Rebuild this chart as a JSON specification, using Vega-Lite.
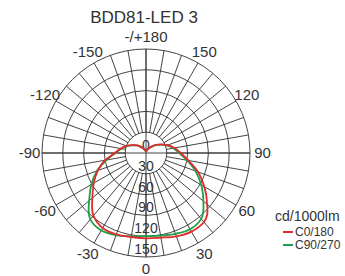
{
  "$schema": "https://vega.github.io/schema/vega-lite/v6.json",
  "width": 208,
  "height": 208,
  "autosize": "none",
  "padding": {"left": 42, "top": 49, "right": 95, "bottom": 19},
  "background": "white",
  "config": {"view": {"stroke": null}, "font": "Liberation Sans"},
  "title": {"text": "BDD81-LED 3", "fontSize": 17, "fontWeight": "normal", "color": "#333333", "font": "Liberation Sans", "frame": "group", "baseline": "alphabetic", "offset": -10, "dx": -2},
  "datasets": {
    "curves": [
      {"c": "C90/270", "a": -180, "v": 1.5}, {"c": "C90/270", "a": -170, "v": 2.5}, {"c": "C90/270", "a": -160, "v": 4}, {"c": "C90/270", "a": -150, "v": 7}, {"c": "C90/270", "a": -140, "v": 11}, {"c": "C90/270", "a": -130, "v": 17}, {"c": "C90/270", "a": -120, "v": 22}, {"c": "C90/270", "a": -110, "v": 29}, {"c": "C90/270", "a": -100, "v": 36}, {"c": "C90/270", "a": -90, "v": 44}, {"c": "C90/270", "a": -80, "v": 58}, {"c": "C90/270", "a": -70, "v": 75}, {"c": "C90/270", "a": -60, "v": 91}, {"c": "C90/270", "a": -50, "v": 107}, {"c": "C90/270", "a": -45, "v": 117}, {"c": "C90/270", "a": -40, "v": 125}, {"c": "C90/270", "a": -30, "v": 129}, {"c": "C90/270", "a": -20, "v": 126}, {"c": "C90/270", "a": -10, "v": 122}, {"c": "C90/270", "a": 0, "v": 120}, {"c": "C90/270", "a": 10, "v": 121}, {"c": "C90/270", "a": 20, "v": 124}, {"c": "C90/270", "a": 30, "v": 127}, {"c": "C90/270", "a": 40, "v": 124}, {"c": "C90/270", "a": 45, "v": 117}, {"c": "C90/270", "a": 50, "v": 108}, {"c": "C90/270", "a": 55, "v": 100}, {"c": "C90/270", "a": 60, "v": 92}, {"c": "C90/270", "a": 70, "v": 76}, {"c": "C90/270", "a": 80, "v": 60}, {"c": "C90/270", "a": 90, "v": 48}, {"c": "C90/270", "a": 100, "v": 40}, {"c": "C90/270", "a": 110, "v": 32}, {"c": "C90/270", "a": 120, "v": 24}, {"c": "C90/270", "a": 130, "v": 17}, {"c": "C90/270", "a": 140, "v": 11}, {"c": "C90/270", "a": 150, "v": 7}, {"c": "C90/270", "a": 160, "v": 4}, {"c": "C90/270", "a": 170, "v": 2.5}, {"c": "C90/270", "a": 180, "v": 1.5},
      {"c": "C0/180", "a": -180, "v": 1.5}, {"c": "C0/180", "a": -170, "v": 3}, {"c": "C0/180", "a": -160, "v": 5}, {"c": "C0/180", "a": -150, "v": 8}, {"c": "C0/180", "a": -140, "v": 12}, {"c": "C0/180", "a": -130, "v": 17}, {"c": "C0/180", "a": -120, "v": 23}, {"c": "C0/180", "a": -110, "v": 30}, {"c": "C0/180", "a": -100, "v": 37}, {"c": "C0/180", "a": -90, "v": 45}, {"c": "C0/180", "a": -80, "v": 60}, {"c": "C0/180", "a": -70, "v": 74}, {"c": "C0/180", "a": -60, "v": 87}, {"c": "C0/180", "a": -50, "v": 101}, {"c": "C0/180", "a": -45, "v": 110}, {"c": "C0/180", "a": -40, "v": 118}, {"c": "C0/180", "a": -30, "v": 125}, {"c": "C0/180", "a": -20, "v": 125}, {"c": "C0/180", "a": -10, "v": 123}, {"c": "C0/180", "a": 0, "v": 123}, {"c": "C0/180", "a": 10, "v": 124}, {"c": "C0/180", "a": 20, "v": 128}, {"c": "C0/180", "a": 30, "v": 131}, {"c": "C0/180", "a": 40, "v": 130}, {"c": "C0/180", "a": 45, "v": 125}, {"c": "C0/180", "a": 50, "v": 115}, {"c": "C0/180", "a": 55, "v": 106}, {"c": "C0/180", "a": 60, "v": 97}, {"c": "C0/180", "a": 70, "v": 80}, {"c": "C0/180", "a": 80, "v": 62}, {"c": "C0/180", "a": 90, "v": 50}, {"c": "C0/180", "a": 100, "v": 42}, {"c": "C0/180", "a": 110, "v": 33}, {"c": "C0/180", "a": 120, "v": 25}, {"c": "C0/180", "a": 130, "v": 18}, {"c": "C0/180", "a": 140, "v": 12}, {"c": "C0/180", "a": 150, "v": 8}, {"c": "C0/180", "a": 160, "v": 5}, {"c": "C0/180", "a": 170, "v": 3}, {"c": "C0/180", "a": 180, "v": 1.5}
    ]
  },
  "layer": [
    {
      "data": {"values": [{"r": 30}, {"r": 60}, {"r": 90}, {"r": 120}, {"r": 150}]},
      "mark": {"type": "point", "shape": "circle", "filled": false, "stroke": "#2f2f2f", "strokeWidth": 0.9, "opacity": 1},
      "encoding": {
        "x": {"datum": 0, "type": "quantitative", "scale": {"domain": [-150, 150], "nice": false, "zero": false}, "axis": null},
        "y": {"datum": 0, "type": "quantitative", "scale": {"domain": [-150, 150], "nice": false, "zero": false}, "axis": null},
        "size": {"field": "r", "type": "quantitative", "scale": {"type": "pow", "exponent": 2, "domain": [0, 150], "range": [0, 43264], "zero": true}, "legend": null}
      }
    },
    {
      "data": {"values": [{"a": -170}, {"a": -160}, {"a": -150}, {"a": -140}, {"a": -130}, {"a": -120}, {"a": -110}, {"a": -100}, {"a": -90}, {"a": -80}, {"a": -70}, {"a": -60}, {"a": -50}, {"a": -40}, {"a": -30}, {"a": -20}, {"a": -10}, {"a": 0}, {"a": 10}, {"a": 20}, {"a": 30}, {"a": 40}, {"a": 50}, {"a": 60}, {"a": 70}, {"a": 80}, {"a": 90}, {"a": 100}, {"a": 110}, {"a": 120}, {"a": 130}, {"a": 140}, {"a": 150}, {"a": 160}, {"a": 170}, {"a": 180}]},
      "transform": [
        {"calculate": "30*sin(datum.a*PI/180)", "as": "x1"},
        {"calculate": "-30*cos(datum.a*PI/180)", "as": "y1"},
        {"calculate": "150*sin(datum.a*PI/180)", "as": "x2"},
        {"calculate": "-150*cos(datum.a*PI/180)", "as": "y2"}
      ],
      "mark": {"type": "rule", "stroke": "#2f2f2f", "strokeWidth": 0.9},
      "encoding": {
        "x": {"field": "x1", "type": "quantitative"},
        "y": {"field": "y1", "type": "quantitative"},
        "x2": {"field": "x2"},
        "y2": {"field": "y2"}
      }
    },
    {
      "data": {"values": [{}]},
      "mark": {"type": "rule", "stroke": "#2f2f2f", "strokeWidth": 0.9},
      "encoding": {"x": {"datum": 0}, "y": {"datum": -150}, "y2": {"datum": 150}}
    },
    {
      "data": {"values": [{}]},
      "mark": {"type": "rule", "stroke": "#2f2f2f", "strokeWidth": 0.9},
      "encoding": {"y": {"datum": 0}, "x": {"datum": -150}, "x2": {"datum": 150}}
    },
    {
      "data": {"values": [{"v": 0, "t": "0"}, {"v": 30, "t": "30"}, {"v": 60, "t": "60"}, {"v": 90, "t": "90"}, {"v": 120, "t": "120"}, {"v": 150, "t": "150"}]},
      "transform": [{"calculate": "-datum.v", "as": "ry"}],
      "mark": {"type": "text", "fontSize": 14, "font": "Liberation Sans", "color": "#333333", "baseline": "middle", "align": "center", "dy": -7},
      "encoding": {
        "x": {"datum": 0},
        "y": {"field": "ry", "type": "quantitative"},
        "text": {"field": "t"}
      }
    },
    {
      "data": {"values": [{"a": 0, "t": "0"}, {"a": 30, "t": "30"}, {"a": 60, "t": "60"}, {"a": 90, "t": "90"}, {"a": 120, "t": "120"}, {"a": 150, "t": "150"}, {"a": 180, "t": "-/+180"}, {"a": -150, "t": "-150"}, {"a": -120, "t": "-120"}, {"a": -90, "t": "-90"}, {"a": -60, "t": "-60"}, {"a": -30, "t": "-30"}]},
      "transform": [
        {"calculate": "168*sin(datum.a*PI/180)", "as": "lx"},
        {"calculate": "-168*cos(datum.a*PI/180)", "as": "ly"}
      ],
      "mark": {"type": "text", "fontSize": 15, "font": "Liberation Sans", "color": "#333333", "baseline": "middle", "align": "center"},
      "encoding": {
        "x": {"field": "lx", "type": "quantitative"},
        "y": {"field": "ly", "type": "quantitative"},
        "text": {"field": "t"}
      }
    },
    {
      "data": {"name": "curves"},
      "transform": [
        {"calculate": "datum.v*sin(datum.a*PI/180)", "as": "cx"},
        {"calculate": "-datum.v*cos(datum.a*PI/180)", "as": "cy"}
      ],
      "mark": {"type": "line", "strokeWidth": 1.8, "interpolate": "catmull-rom"},
      "encoding": {
        "x": {"field": "cx", "type": "quantitative"},
        "y": {"field": "cy", "type": "quantitative"},
        "order": {"field": "a", "type": "quantitative"},
        "detail": {"field": "c"},
        "color": {
          "field": "c", "type": "nominal",
          "scale": {"domain": ["C0/180", "C90/270"], "range": ["#e42a2c", "#1e9f4a"]},
          "sort": ["C0/180", "C90/270"],
          "legend": {"orient": "none", "legendX": 233, "legendY": 161, "title": "cd/1000lm", "titleFontSize": 14, "titleFontWeight": "normal", "titleColor": "#333333", "titleFont": "Liberation Sans", "titlePadding": 2, "labelFontSize": 12, "labelColor": "#333333", "labelFont": "Liberation Sans", "symbolType": "stroke", "symbolSize": 100, "symbolStrokeWidth": 2, "symbolOffset": 7, "rowPadding": 1, "labelOffset": 1, "padding": 0}
        }
      }
    }
  ]
}
